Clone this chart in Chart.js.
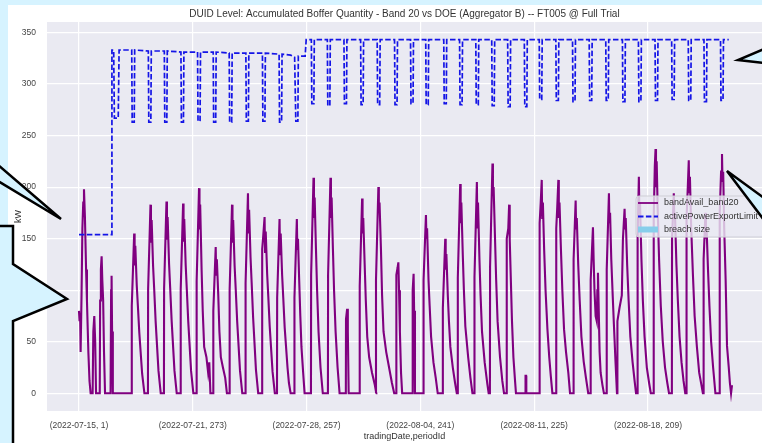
<!DOCTYPE html>
<html>
<head>
<meta charset="utf-8">
<script src="https://cdn.jsdelivr.net/npm/chart.js@4.4.1/dist/chart.umd.min.js"></script>
<style>
  html, body { margin: 0; padding: 0; background: #d6f3ff; overflow: hidden; }
  #fig { position: absolute; left: 8px; top: 5px; width: 754px; height: 438px; background: #fff; }
  #wrap { position: absolute; left: 0; top: 0; width: 762px; height: 443px; }
  #notes { position: absolute; left: 0; top: 0; pointer-events: none; }
</style>
</head>
<body>
<div id="fig"></div>
<div id="wrap"><canvas id="chart"></canvas></div>
<svg id="notes" width="762" height="443">
  <g fill="#d6f3ff" stroke="#000" stroke-width="2.5" stroke-linejoin="miter">
    <polygon points="-2,165 61,219 -2,181"/>
    <polygon points="-2,226 13,226 13,264 67,299 13,321 13,450 -2,450"/>
    <polygon points="764,49 738,60 764,63"/>
    <polygon points="764,198 727,171 764,220"/>
  </g>
</svg>
<script>
// x positions are 5-minute period counts from (2022-07-15, 1)
const xTickPos = [0, 2000, 4000, 6000, 8000, 10000];
const xTickLabels = ['(2022-07-15, 1)', '(2022-07-21, 273)', '(2022-07-28, 257)',
                     '(2022-08-04, 241)', '(2022-08-11, 225)', '(2022-08-18, 209)'];
const yTicks = [0, 50, 100, 150, 200, 250, 300, 350];

// bandAvail_band20 (kW), [period, value]
const bandAvail = [
  [0,80],[10,70],[20,78],[29,40],[45,95],[60,160],[75,185],[88,198],[105,170],[125,120],[140,90],[165,40],[185,12],[205,0],
  [240,0],[252,60],[269,75],[285,50],[300,0],
  [365,0],[372,90],[385,120],[398,133],[410,110],[425,90],[440,40],[458,0],
  [555,0],[565,100],[573,114],[582,60],[595,0],
  [925,0],[928,85],[970,155],[978,124],[990,143],[1015,105],[1035,85],[1060,59],[1110,19],[1150,0],
  [1212,0],[1215,101],[1257,183],[1265,146],[1277,168],[1302,124],[1322,101],[1347,70],[1397,22],[1437,0],
  [1493,0],[1496,102],[1538,186],[1546,149],[1558,171],[1583,126],[1603,102],[1628,71],[1678,22],[1718,0],
  [1785,0],[1788,101],[1830,184],[1838,147],[1850,169],[1875,125],[1895,101],[1920,70],[1970,22],[2010,0],
  [2065,0],[2068,109],[2110,199],[2118,159],[2130,183],[2155,120],[2175,80],[2200,45],[2240,35],[2270,20],[2290,30],[2310,0],
  [2358,0],[2361,80],[2403,142],[2411,115],[2423,130],[2448,95],[2468,60],[2493,35],[2530,25],[2570,15],[2600,0],
  [2645,0],[2648,101],[2690,183],[2698,146],[2710,168],[2735,124],[2755,101],[2780,70],[2830,22],[2870,0],
  [2925,0],[2928,107],[2970,194],[2978,155],[2990,178],[3015,132],[3035,107],[3060,74],[3110,23],[3150,0],
  [3217,0],[3220,140],[3235,150],[3262,171],[3270,137],[3282,157],[3307,116],[3327,94],[3352,65],[3402,21],[3442,0],
  [3480,0],[3483,93],[3525,169],[3533,135],[3545,155],[3570,115],[3590,93],[3615,64],[3665,25],[3690,10],[3720,0],
  [3784,0],[3787,93],[3829,169],[3837,140],[3849,150],[3870,110],[3890,75],[3910,45],[3940,20],[3965,0],
  [4077,0],[4080,115],[4122,209],[4130,170],[4142,190],[4165,140],[4185,100],[4210,60],[4245,25],[4285,0],
  [4375,0],[4378,115],[4420,209],[4428,170],[4440,190],[4463,140],[4483,100],[4510,60],[4545,25],[4580,0],
  [4690,0],[4693,72],[4713,82],[4725,60],[4740,0],
  [4931,0],[4934,104],[4976,189],[4984,155],[4996,170],[5021,125],[5041,90],[5066,55],[5100,35],[5150,20],[5200,8],[5225,0],
  [5217,0],[5220,110],[5262,200],[5270,175],[5282,185],[5307,140],[5327,95],[5352,60],[5400,40],[5450,25],[5500,10],[5540,0],
  [5575,0],[5578,115],[5600,122],[5613,127],[5625,100],[5640,60],[5660,20],[5680,0],
  [5860,0],[5865,100],[5881,116],[5890,80],[5905,0],
  [6053,0],[6056,110],[6098,173],[6106,150],[6118,160],[6143,110],[6163,85],[6188,55],[6230,30],[6270,15],[6305,0],
  [6392,0],[6395,83],[6437,150],[6445,120],[6457,135],[6482,95],[6502,70],[6527,45],[6570,25],[6610,10],[6640,0],
  [6655,0],[6658,112],[6700,203],[6708,165],[6720,185],[6745,135],[6765,100],[6790,65],[6840,35],[6880,15],[6915,0],
  [6948,0],[6951,113],[6993,205],[7001,160],[7013,185],[7038,130],[7058,95],[7083,60],[7130,30],[7175,10],[7200,0],
  [7222,0],[7225,123],[7267,223],[7275,195],[7287,200],[7312,150],[7332,110],[7357,70],[7400,35],[7440,12],[7470,0],
  [7515,0],[7518,150],[7545,160],[7560,183],[7570,150],[7590,110],[7610,70],[7635,35],[7660,15],[7680,0],
  [7845,0],[7848,17],[7858,17],[7862,0],
  [8093,0],[8096,165],[8115,185],[8133,207],[8141,170],[8153,185],[8175,140],[8200,100],[8233,62],[8265,35],[8292,17],[8320,0],
  [8385,0],[8388,160],[8405,180],[8425,207],[8433,170],[8445,185],[8470,140],[8495,100],[8525,62],[8560,40],[8600,20],[8630,0],
  [8690,0],[8693,130],[8729,187],[8737,160],[8749,170],[8774,125],[8800,90],[8830,55],[8870,31],[8910,15],[8950,0],
  [8990,0],[8993,110],[9033,161],[9045,130],[9060,100],[9080,75],[9100,70],[9110,100],[9121,117],[9135,80],[9150,40],[9168,20],[9200,8],[9226,0],
  [9272,0],[9275,120],[9314,194],[9322,165],[9334,175],[9355,130],[9380,95],[9401,67],[9430,30],[9455,0],
  [9460,0],[9463,70],[9500,83],[9540,95],[9560,150],[9589,179],[9597,160],[9609,170],[9634,125],[9660,90],[9690,55],[9730,30],[9765,12],[9790,0],
  [9815,0],[9818,150],[9840,210],[9848,175],[9860,185],[9885,130],[9910,90],[9940,55],[9980,25],[10020,10],[10050,0],
  [10098,0],[10101,170],[10120,220],[10133,237],[10141,200],[10153,225],[10170,180],[10195,130],[10225,85],[10260,50],[10300,25],[10340,10],[10370,0],
  [10420,0],[10423,150],[10454,194],[10462,170],[10474,175],[10500,125],[10525,90],[10555,55],[10590,30],[10625,12],[10655,0],
  [10675,0],[10678,170],[10700,200],[10717,226],[10725,195],[10737,210],[10760,160],[10790,115],[10820,75],[10860,45],[10900,20],[10940,8],[10965,0],
  [10975,0],[10978,130],[11010,175],[11018,150],[11030,160],[11055,120],[11080,85],[11110,50],[11145,25],[11185,0],
  [11258,0],[11261,175],[11285,215],[11301,232],[11310,205],[11322,215],[11340,160],[11365,110],[11389,46],[11420,25],[11440,10],[11460,0],[11470,0],[11477,8]
];

// activePowerExportLimit (kW), [period, value]
const exportLimit = [
  [0,154],[579,154],[579,333],[610,333],[622,267],[690,267],[705,333],
  [927,333],[935,263],[971,263],[979,333],
  [1219,332],[1227,263],[1263,263],[1271,332],
  [1500,332],[1508,263],[1544,263],[1552,332],
  [1792,331],[1800,263],[1836,263],[1844,331],
  [2084,331],[2092,264],[2128,264],[2136,331],
  [2359,331],[2367,263],[2403,263],[2411,331],
  [2640,330],[2648,263],[2684,263],[2692,330],
  [2933,330],[2941,264],[2977,264],[2985,330],
  [3224,330],[3232,264],[3268,264],[3276,330],
  [3517,329],[3525,263],[3561,263],[3569,329],
  [3720,328],[3790,326],[3811,264],[3847,264],[3855,327],
  [3975,327],[3993,343],
  [4084,343],[4092,281],[4128,281],[4136,343],
  [4365,343],[4373,279],[4409,279],[4417,343],
  [4657,343],[4665,281],[4701,281],[4709,343],
  [4950,343],[4958,280],[4994,280],[5002,343],
  [5241,343],[5249,280],[5285,280],[5293,343],
  [5546,343],[5554,280],[5590,280],[5598,343],
  [5827,343],[5835,281],[5871,281],[5879,343],
  [6094,343],[6102,280],[6138,280],[6146,343],
  [6411,343],[6419,281],[6455,281],[6463,343],
  [6689,343],[6697,280],[6733,280],[6741,343],
  [6974,343],[6982,280],[7018,280],[7026,343],
  [7254,343],[7262,279],[7298,279],[7306,343],
  [7534,343],[7542,278],[7578,278],[7586,343],
  [7827,343],[7835,278],[7871,278],[7879,343],
  [8089,343],[8097,285],[8133,285],[8141,343],
  [8381,343],[8389,284],[8425,284],[8433,343],
  [8674,343],[8682,283],[8718,283],[8726,343],
  [8967,343],[8975,284],[9011,284],[9019,343],
  [9258,343],[9266,284],[9302,284],[9310,343],
  [9551,343],[9559,283],[9595,283],[9603,343],
  [9832,343],[9840,283],[9876,283],[9884,343],
  [10124,343],[10132,284],[10168,284],[10176,343],
  [10416,343],[10424,285],[10460,285],[10468,343],
  [10708,343],[10716,284],[10752,284],[10760,343],
  [10984,343],[10992,283],[11028,283],[11036,343],
  [11275,343],[11283,284],[11319,284],[11327,343],
  [11420,343]
];

const seriesNames = ['bandAvail_band20', 'activePowerExportLimit', 'breach size'];

const toXY = arr => arr.map(p => ({ x: p[0], y: p[1] }));

const FONT = "'Liberation Sans', Arial, sans-serif";

// grey seaborn-like plotting area
const plotBg = {
  id: 'plotBg',
  beforeDraw(chart) {
    const { ctx, chartArea: a } = chart;
    ctx.save();
    ctx.fillStyle = '#eaeaf2';
    ctx.fillRect(a.left, a.top, a.right - a.left, a.bottom - a.top);
    ctx.restore();
  }
};

// legend box drawn inside the axes, like matplotlib
const boxLegend = {
  id: 'boxLegend',
  afterDraw(chart) {
    const ctx = chart.ctx;
    const x = 636, y = 196, w = 140, h = 41;
    ctx.save();
    ctx.beginPath();
    ctx.roundRect(x, y, w, h, 3);
    ctx.fillStyle = 'rgba(234,234,242,0.8)';
    ctx.fill();
    ctx.strokeStyle = '#cfcfd6';
    ctx.lineWidth = 1;
    ctx.stroke();

    const rows = [203, 216.5, 229.5];
    ctx.lineWidth = 1.8;
    ctx.strokeStyle = 'purple';
    ctx.beginPath(); ctx.moveTo(638, rows[0]); ctx.lineTo(658, rows[0]); ctx.stroke();
    ctx.strokeStyle = '#1414e6';
    ctx.setLineDash([5.5, 2.4]);
    ctx.beginPath(); ctx.moveTo(638, rows[1]); ctx.lineTo(658, rows[1]); ctx.stroke();
    ctx.setLineDash([]);
    ctx.fillStyle = 'skyblue';
    ctx.fillRect(638, rows[2] - 3, 20, 6);

    ctx.fillStyle = '#333';
    ctx.font = '9px ' + FONT;
    ctx.textBaseline = 'middle';
    seriesNames.forEach((name, i) => ctx.fillText(name, 664, rows[i]));
    ctx.restore();
  }
};

new Chart(document.getElementById('chart'), {
  type: 'line',
  data: {
    datasets: [
      {
        label: seriesNames[1],
        data: toXY(exportLimit),
        borderColor: '#1414e6',
        borderWidth: 1.7,
        borderDash: [5.5, 2.4],
        pointRadius: 0,
        tension: 0,
        order: 0
      },
      {
        label: seriesNames[0],
        data: toXY(bandAvail),
        borderColor: 'purple',
        borderWidth: 2.1,
        pointRadius: 0,
        tension: 0,
        order: 1
      }
    ]
  },
  options: {
    responsive: true,
    maintainAspectRatio: false,
    animation: false,
    layout: { padding: 0 },
    plugins: {
      legend: { display: false },
      tooltip: { enabled: false },
      title: {
        display: true,
        fullSize: false,
        text: 'DUID Level: Accumulated Boffer Quantity - Band 20 vs DOE (Aggregator B) -- FT005 @ Full Trial',
        color: '#333',
        font: { family: FONT, size: 10, weight: 'normal' },
        padding: { top: 8, bottom: 2 }
      }
    },
    scales: {
      x: {
        type: 'linear',
        min: -562,
        max: 12004,
        afterBuildTicks: s => { s.ticks = xTickPos.map(v => ({ value: v })); },
        afterFit: s => { s.height = 32; },
        ticks: {
          color: '#444',
          font: { family: FONT, size: 8.5 },
          padding: 10,
          maxRotation: 0,
          autoSkip: false,
          callback: v => xTickLabels[xTickPos.indexOf(v)]
        },
        grid: { color: '#ffffff', lineWidth: 1.2, drawTicks: false },
        border: { display: false },
        title: {
          display: true,
          text: 'tradingDate,periodId',
          color: '#333',
          font: { family: FONT, size: 9 },
          padding: { top: 0, bottom: 1 }
        }
      },
      y: {
        min: -17.15,
        max: 360.15,
        afterBuildTicks: s => { s.ticks = yTicks.map(v => ({ value: v })); },
        afterFit: s => { s.width = 47; },
        ticks: {
          color: '#444',
          font: { family: FONT, size: 8.5 },
          padding: 11
        },
        grid: { color: '#ffffff', lineWidth: 1.2, drawTicks: false },
        border: { display: false },
        title: {
          display: true,
          text: 'kW',
          color: '#333',
          font: { family: FONT, size: 9 },
          padding: { top: 13, bottom: 0 }
        }
      }
    }
  },
  plugins: [plotBg, boxLegend]
});
</script>
</body>
</html>
